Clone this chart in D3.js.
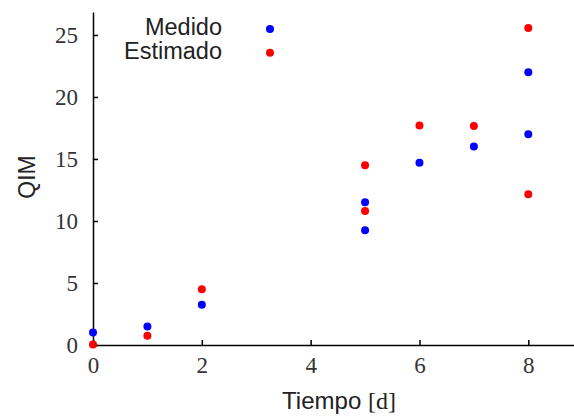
<!DOCTYPE html>
<html>
  <head>
    <script src="https://d3js.org/d3.v7.min.js"></script>
    <style>
      body { margin: 0; background: #fff; }
      .tick text { font-family: "Liberation Serif", serif; font-size: 23px; fill: #333; }
      .domain, .tick line { stroke: #000; stroke-width: 1.5px; }
    </style>
  </head>
  <body>
    <div id="chart"></div>
    <script>
      // values
      var dias = [0, 1, 2, 5, 5, 6, 7, 8, 8]
      var medido = [1.0, 1.5, 3.25, 11.5, 9.25, 14.7, 16.0, 22.0, 17.0]
      var estimado = [0.05, 0.75, 4.5, 14.5, 10.8, 17.7, 17.65, 25.55, 12.15]
      var xTicks = [0, 2, 4, 6, 8]
      var yTicks = [0, 5, 10, 15, 20, 25]
      var series = [
        {name: "Medido", values: medido, color: "#0000ff"},
        {name: "Estimado", values: estimado, color: "#ff0000"}
      ]

      const width = 574, height = 416;
      const svg = d3.select("#chart").append("svg")
        .attr("width", width)
        .attr("height", height);

      const x = d3.scaleLinear().domain([0, 8.84]).range([93, 574]);
      const y = d3.scaleLinear().domain([0, 26.85]).range([345, 12]);

      svg.append("g")
        .attr("transform", "translate(0,345)")
        .call(d3.axisBottom(x).tickValues(xTicks).tickSizeInner(-5).tickSizeOuter(0).tickPadding(12));

      svg.append("g")
        .attr("transform", "translate(93,0)")
        .call(d3.axisLeft(y).tickValues(yTicks).tickSizeInner(-5).tickSizeOuter(0).tickPadding(15));

      series.forEach(function(s) {
        svg.append("g").selectAll("circle")
          .data(s.values)
          .join("circle")
            .attr("cx", (d, i) => x(dias[i]))
            .attr("cy", d => y(d))
            .attr("r", 4)
            .attr("fill", s.color);
      });

      // legend
      const leg = svg.append("g");
      series.forEach(function(s, i) {
        leg.append("text")
          .attr("x", 222).attr("y", 35 + i * 24)
          .attr("text-anchor", "end")
          .attr("font-family", "Liberation Sans, Arial, sans-serif")
          .attr("font-size", "23.5px")
          .attr("fill", "#222")
          .text(s.name);
        leg.append("circle")
          .attr("cx", 270).attr("cy", 29 + i * 23.7)
          .attr("r", 4)
          .attr("fill", s.color);
      });

      // axis titles
      const xl = svg.append("text")
        .attr("x", 339).attr("y", 409)
        .attr("text-anchor", "middle")
        .attr("font-size", "24px")
        .attr("fill", "#222");
      xl.append("tspan").attr("font-family", "Liberation Sans, Arial, sans-serif").text("Tiempo ");
      xl.append("tspan").attr("font-family", "Liberation Serif, serif").text("[d]");

      svg.append("text")
        .attr("transform", "translate(35,177) rotate(-90)")
        .attr("text-anchor", "middle")
        .attr("font-family", "Liberation Sans, Arial, sans-serif")
        .attr("font-size", "23px")
        .attr("fill", "#222")
        .text("QIM");
    </script>
  </body>
</html>
